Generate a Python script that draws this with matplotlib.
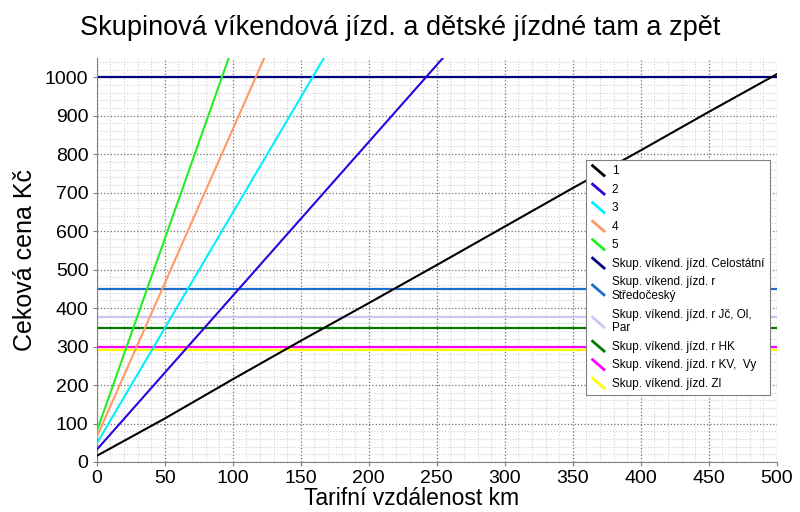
#coding:utf-8
# Skupinová víkendová jízdenka - cena podle tarifní vzdálenosti
import matplotlib
matplotlib.use('Agg')
import matplotlib.pyplot as plt
from matplotlib.lines import Line2D
from matplotlib.legend_handler import HandlerBase
from matplotlib.ticker import MultipleLocator

plt.rcParams['font.family'] = ['Liberation Sans', 'DejaVu Sans']

# data
km_1 = [0, 50, 100, 150, 200, 250, 300, 350, 400, 450, 500]
cena_1 = [16, 113, 215, 315, 413, 512, 612, 712, 810, 910, 1008]
km_2 = [0, 50, 100, 150, 200, 250, 270]
cena_2 = [32, 232, 432, 632, 832, 1032, 1112]
km_3 = [0, 50, 100, 150, 180]
cena_3 = [48, 348, 648, 948, 1128]
km_4 = [0, 50, 100, 130]
cena_4 = [65, 465, 865, 1105]
km_5 = [0, 50, 100, 110]
cena_5 = [80, 580, 1080, 1180]

nazvy = ['1', '2', '3', '4', '5']
barvy = ['#000000', '#3000DD', '#00F0FF', '#FF9966', '#22EE22']

# paušální ceny (vodorovné čáry)
skup_nazvy = ['Skup. víkend. jízd. Celostátní',
              'Skup. víkend. jízd. r\nStředočeský',
              'Skup. víkend. jízd. r Jč, Ol,\nPar',
              'Skup. víkend. jízd. r HK',
              'Skup. víkend. jízd. r KV,  Vy',
              'Skup. víkend. jízd. Zl']
skup_ceny = [1000, 450, 378, 348, 298, 290]
skup_barvy = ['#000080', '#1E6CCC', '#C8C8F5', '#007A00', '#FF00FF', '#FFFF00']
rozsah_km = [0, 500]


class SikmaCara(HandlerBase):
    # v legendě šikmá čárka
    def create_artists(self, legend, orig, xd, yd, w, h, fontsize, trans):
        l = Line2D([-xd + w * 0.1, -xd + w * 0.85], [-yd + h * 1.05, -yd - h * 0.15],
                   color=orig.get_color(), lw=2, transform=trans)
        return [l]


fig = plt.figure(figsize=(8, 5.12), dpi=100)
ax = fig.add_axes([0.121, 0.0977, 0.85, 0.789])

car = []
for x, y, n, b in zip([km_1, km_2, km_3, km_4, km_5],
                      [cena_1, cena_2, cena_3, cena_4, cena_5], nazvy, barvy):
    l, = ax.plot(x, y, color=b, lw=1.5, label=n, zorder=3)
    car.append(l)
for n, c, b in zip(skup_nazvy, skup_ceny, skup_barvy):
    l, = ax.plot(rozsah_km, [c, c], color=b, lw=1.6, label=n, zorder=2)
    car.append(l)

ax.set_xlim(0, 500)
ax.set_ylim(0, 1050)
ax.xaxis.set_major_locator(MultipleLocator(50))
ax.xaxis.set_minor_locator(MultipleLocator(10))
ax.yaxis.set_major_locator(MultipleLocator(100))
ax.yaxis.set_minor_locator(MultipleLocator(20))
ax.grid(which='major', color='#707070', linestyle=':', lw=0.9)
ax.grid(which='minor', color='#d0d0d0', linestyle=':', lw=0.8)
ax.set_axisbelow(True)
for s in ['top', 'right']:
    ax.spines[s].set_visible(False)
for s in ['left', 'bottom']:
    ax.spines[s].set_color('#808080')
ax.tick_params(which='major', length=3, color='#808080', labelsize=14, pad=3)
ax.tick_params(which='minor', length=0)

fig.suptitle('Skupinová víkendová jízd. a dětské jízdné tam a zpět', fontsize=19.5,
             x=0.5, y=0.97)
ax.set_xlabel('Tarifní vzdálenost km', fontsize=16.5)
ax.xaxis.set_label_coords(0.463, -0.062)
ax.set_ylabel('Ceková cena Kč', fontsize=18)
ax.yaxis.set_label_coords(-0.088, 0.5)

leg = ax.legend(handles=car, loc='upper left', bbox_to_anchor=(0.719, 0.7475),
                fontsize=8.5, frameon=True, fancybox=False, framealpha=1,
                edgecolor='#808080', borderpad=0.45, labelspacing=0.55,
                handlelength=1.3, handletextpad=0.45, borderaxespad=0,
                handler_map={Line2D: SikmaCara()})
leg.get_frame().set_linewidth(0.8)
leg.set_zorder(5)

plt.savefig('out.png', dpi=100)
